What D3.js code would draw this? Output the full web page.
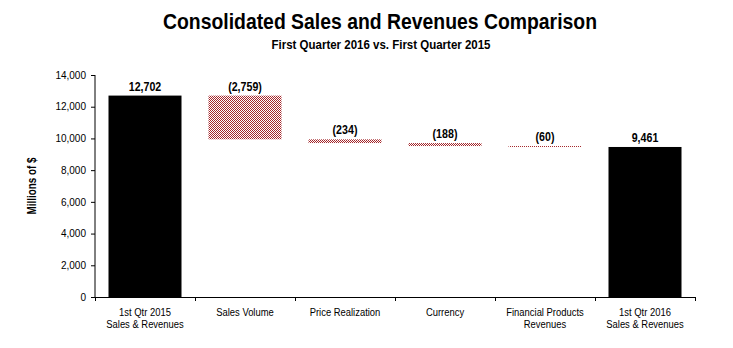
<!DOCTYPE html>
<meta charset="utf-8">
<title>Consolidated Sales and Revenues Comparison</title>
<style>

body {
  margin: 0;
  background: #fff;
}

text {
  fill: #000;
  font-family: "Liberation Sans", Arial, sans-serif;
}

</style>
<body>
  <script src="https://d3js.org/d3.v7.min.js"></script>
  <script>

  const width = 733;
  const height = 348;
  const squeeze = 0.82; // fake Arial Narrow by squeezing Liberation Sans

  // chart data
  const categories = [
    ["1st Qtr 2015", "Sales & Revenues"],
    ["Sales Volume"],
    ["Price Realization"],
    ["Currency"],
    ["Financial Products", "Revenues"],
    ["1st Qtr 2016", "Sales & Revenues"]
  ];
  const values = [12702, -2759, -234, -188, -60, 9461];
  const isTotal = [true, false, false, false, false, true];
  const valueLabels = ["12,702", "(2,759)", "(234)", "(188)", "(60)", "9,461"];
  const yTicks = [0, 2000, 4000, 6000, 8000, 10000, 12000, 14000];

  // waterfall bottoms / tops
  let running = 0;
  const bars = values.map((v, i) => {
    let lo, hi;
    if (isTotal[i]) {
      lo = 0; hi = v; running = v;
    } else {
      hi = running; lo = running + v; running = lo;
    }
    return {i, lo, hi, label: valueLabels[i], total: isTotal[i]};
  });

  const margin = {left: 95, right: 38, top: 75, bottom: 51};

  const svg = d3.select("body").append("svg")
      .attr("width", width)
      .attr("height", height);

  const x = d3.scaleBand()
      .domain(d3.range(categories.length))
      .range([margin.left, width - margin.right])
      .padding(0);

  const y = d3.scaleLinear()
      .domain([0, 14000])
      .range([height - margin.bottom, margin.top]);

  const barW = x.bandwidth() * 0.73;

  const at = (cx, cy) => "translate(" + cx + "," + cy + ")scale(" + squeeze + ",1)";

  // dotted fill like the excel pattern
  const pat = svg.append("defs").append("pattern")
      .attr("id", "dots")
      .attr("patternUnits", "userSpaceOnUse")
      .attr("width", 2)
      .attr("height", 2);
  pat.append("rect").attr("width", 2).attr("height", 2).attr("fill", "#fff");
  pat.append("rect").attr("x", 0).attr("y", 0).attr("width", 1).attr("height", 1).attr("fill", "#a3262a");
  pat.append("rect").attr("x", 1).attr("y", 1).attr("width", 1).attr("height", 1).attr("fill", "#a3262a");

  // titles
  svg.append("text")
      .attr("x", 380)
      .attr("y", 29)
      .attr("text-anchor", "middle")
      .attr("textLength", 434)
      .attr("lengthAdjust", "spacingAndGlyphs")
      .style("font-weight", "bold")
      .style("font-size", "22px")
      .text("Consolidated Sales and Revenues Comparison");

  svg.append("text")
      .attr("x", 381)
      .attr("y", 49)
      .attr("text-anchor", "middle")
      .attr("textLength", 219)
      .attr("lengthAdjust", "spacingAndGlyphs")
      .style("font-weight", "bold")
      .style("font-size", "13px")
      .text("First Quarter 2016 vs. First Quarter 2015");

  // y axis
  const yAxis = svg.append("g")
      .attr("transform", "translate(" + margin.left + ",0)")
      .call(d3.axisLeft(y).tickValues(yTicks).tickSize(4).tickPadding(5).tickFormat(d3.format(",")));
  yAxis.selectAll("text")
      .style("font-size", "10px")
      .attr("fill", "#222");
  yAxis.select(".domain").attr("stroke", "#000").attr("d", "M0," + y(14000) + "V" + (y(0) + 0.5));

  svg.append("text")
      .attr("transform", "translate(36," + y(7000) + ")rotate(-90)scale(" + squeeze + ",1)")
      .attr("text-anchor", "middle")
      .style("font-weight", "bold")
      .style("font-size", "12px")
      .text("Millions of $");

  // x axis with ticks at category boundaries
  const xg = svg.append("g");
  xg.append("line")
      .attr("x1", margin.left - 4)
      .attr("x2", width - margin.right)
      .attr("y1", y(0) + 0.5)
      .attr("y2", y(0) + 0.5)
      .attr("stroke", "#000");
  xg.selectAll("line.tick")
      .data(d3.range(categories.length + 1))
    .enter().append("line")
      .attr("class", "tick")
      .attr("x1", d => Math.round(margin.left + d * x.step()) + 0.5)
      .attr("x2", d => Math.round(margin.left + d * x.step()) + 0.5)
      .attr("y1", y(0))
      .attr("y2", y(0) + 4)
      .attr("stroke", "#000");

  const catText = xg.selectAll("text.cat")
      .data(categories)
    .enter().append("text")
      .attr("class", "cat")
      .attr("text-anchor", "middle")
      .style("font-size", "11.5px")
      .attr("transform", (d, i) => at(x(i) + x.bandwidth() / 2, y(0) + 19));
  catText.selectAll("tspan")
      .data(d => d)
    .enter().append("tspan")
      .attr("x", 0)
      .attr("dy", (d, j) => j === 0 ? 0 : 12)
      .text(d => d);

  // bars
  svg.selectAll("rect.bar")
      .data(bars)
    .enter().append("rect")
      .attr("class", "bar")
      .attr("x", d => x(d.i) + (x.bandwidth() - barW) / 2)
      .attr("width", barW)
      .attr("y", d => y(d.hi))
      .attr("height", d => Math.max(1, y(d.lo) - y(d.hi)))
      .attr("fill", d => d.total ? "#000" : "url(#dots)");

  // value labels
  svg.selectAll("text.val")
      .data(bars)
    .enter().append("text")
      .attr("class", "val")
      .attr("transform", d => at(x(d.i) + x.bandwidth() / 2, y(d.hi) - 5))
      .attr("text-anchor", "middle")
      .style("font-weight", "bold")
      .style("font-size", "13px")
      .text(d => d.label);

  </script>
</body>
